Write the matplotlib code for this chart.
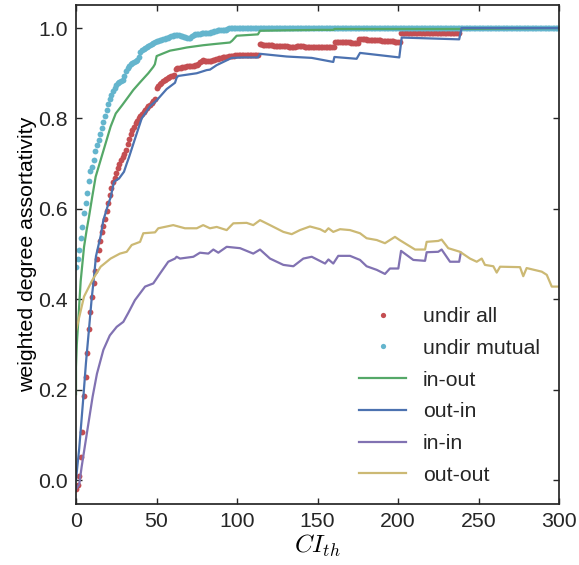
import numpy as np
import matplotlib
matplotlib.use("Agg")
import matplotlib.pyplot as plt

# undir all (dots at every CI_th step)
red_y = [
    -0.02, -0.01, 0.01, 0.05, 0.107, 0.187, 0.229, 0.28, 0.335, 0.371,
    0.405, 0.437, 0.462, 0.49, 0.51, 0.529, 0.549, 0.563, 0.577, 0.595,
    0.612, 0.63, 0.647, 0.66, 0.669, 0.68, 0.69, 0.7, 0.708, 0.715,
    0.722, 0.731, 0.743, 0.755, 0.765, 0.774, 0.782, 0.789, 0.795, 0.8,
    0.805, 0.81, 0.815, 0.819, 0.823, 0.827, 0.83, 0.834, 0.838, 0.842,
    0.868, 0.872, 0.876, 0.879, 0.882, 0.884, 0.887, 0.889, 0.891, 0.893,
    0.895, 0.896, 0.910, 0.911, 0.912, 0.912, 0.913, 0.914, 0.914, 0.915,
    0.915, 0.916, 0.916, 0.917, 0.918, 0.919, 0.921, 0.924, 0.927, 0.929,
    0.928, 0.926, 0.926, 0.927, 0.928, 0.929, 0.930, 0.931, 0.932, 0.933,
    0.934, 0.935, 0.936, 0.937, 0.937, 0.938, 0.938, 0.939, 0.939, 0.94,
    0.94, 0.94, 0.94, 0.94, 0.94, 0.94, 0.941, 0.941, 0.941, 0.941,
    0.941, 0.941, 0.941, 0.941,
    0.964, 0.964, 0.963, 0.963, 0.963, 0.962, 0.962, 0.962, 0.962, 0.961,
    0.961, 0.961, 0.961, 0.960, 0.960, 0.960, 0.960, 0.960, 0.959, 0.959,
    0.959, 0.959, 0.959, 0.960, 0.961, 0.961, 0.960, 0.960, 0.959, 0.959,
    0.959, 0.958, 0.958, 0.958, 0.958, 0.958, 0.958, 0.957, 0.957, 0.957,
    0.957, 0.957, 0.957, 0.957, 0.957, 0.957, 0.957,
    0.970, 0.970, 0.970, 0.970, 0.969, 0.969, 0.969, 0.969, 0.969, 0.969,
    0.968, 0.968, 0.968, 0.968, 0.968,
    0.975, 0.975, 0.975, 0.975, 0.975, 0.974, 0.974, 0.974, 0.974, 0.973,
    0.973, 0.973, 0.973, 0.973, 0.972, 0.972, 0.972, 0.972, 0.971, 0.971,
    0.971, 0.971, 0.970, 0.970, 0.970, 0.970,
    0.990, 0.990, 0.990, 0.990, 0.990, 0.990, 0.990, 0.990, 0.990, 0.990,
    0.989, 0.989, 0.989, 0.989, 0.989, 0.989, 0.989, 0.989, 0.989, 0.989,
    0.989, 0.989, 0.989, 0.988, 0.988, 0.988, 0.988, 0.988, 0.988, 0.988,
    0.988, 0.988, 0.988, 0.988, 0.988, 0.988, 0.988,
]
red_x = list(range(len(red_y)))

# undir mutual
cyan_y = [
    0.472, 0.488, 0.509, 0.535, 0.56, 0.59, 0.612, 0.634, 0.662, 0.684,
    0.692, 0.708, 0.728, 0.742, 0.752, 0.766, 0.779, 0.792, 0.806, 0.819,
    0.832, 0.843, 0.852, 0.86, 0.868, 0.874, 0.878, 0.881, 0.883, 0.886,
    0.895, 0.905, 0.912, 0.917, 0.92, 0.922, 0.924, 0.927, 0.929, 0.935,
    0.947, 0.951, 0.954, 0.956, 0.959, 0.961, 0.963, 0.965, 0.968, 0.970,
    0.971, 0.972, 0.973, 0.974, 0.975, 0.976, 0.977, 0.978, 0.980, 0.982,
    0.983, 0.984, 0.985, 0.985, 0.984, 0.983, 0.982, 0.981, 0.980, 0.978,
    0.977, 0.979, 0.982, 0.984, 0.986, 0.987, 0.987, 0.987, 0.988, 0.988,
    0.989, 0.989, 0.99, 0.99, 0.991, 0.992, 0.993, 0.994, 0.995, 0.995,
    0.995, 0.996, 0.996, 0.996, 0.997,
] + [1.0] * 206
cyan_x = list(range(len(cyan_y)))

# in-out
green_x = [0, 0, 0.5, 1.2, 2.9, 5, 6.6, 8.1, 10.1, 12.2, 15.3, 18.4, 21.5, 24.7,
           28.8, 31.9, 35.6, 39.8, 44.9, 48, 49, 50.1, 54.2, 58.4, 64.6, 68.8,
           79, 87, 95.6, 97, 99.8, 113, 114.3, 130, 151.6, 160, 160.5, 240, 300]
green_y = [0.19, 0.25, 0.30, 0.34, 0.44, 0.516, 0.553, 0.583, 0.627, 0.671,
           0.708, 0.745, 0.782, 0.811, 0.830, 0.845, 0.863, 0.88, 0.90, 0.914,
           0.92, 0.938, 0.944, 0.950, 0.954, 0.957, 0.962, 0.965, 0.968, 0.972,
           0.983, 0.986, 0.994, 0.995, 0.996, 0.996, 0.998, 0.998, 1.0]

# out-in
blue_x = [0, 0.4, 2, 4.5, 6.2, 8.1, 9.7, 11.2, 12.4, 15.3, 17, 20, 21.5, 23.6,
          26.7, 29.8, 31.5, 32.9, 36, 40.8, 46, 50.1, 56.3, 61.5, 62.5, 63.5,
          75, 81.2, 83.2, 87.4, 95.6, 96.7, 104, 113, 114.3, 130.9, 146.4,
          159.8, 160.5, 174.3, 176.4, 200.8, 202.3, 238, 239.5, 300]
blue_y = [0.0, 0.015, 0.07, 0.18, 0.26, 0.335, 0.40, 0.45, 0.495, 0.54, 0.575,
          0.61, 0.625, 0.66, 0.667, 0.682, 0.70, 0.714, 0.748, 0.80, 0.827,
          0.84, 0.865, 0.879, 0.89, 0.894, 0.90, 0.907, 0.908, 0.918, 0.932,
          0.934, 0.935, 0.935, 0.943, 0.937, 0.934, 0.925, 0.936, 0.932, 0.945,
          0.935, 0.979, 0.975, 1.0, 1.0]

# in-in
purple_x = [0, 2, 3.5, 6.6, 10.3, 13, 17, 21, 25.3, 29.4, 32.5, 36.6, 42.9, 48,
            52.2, 57.3, 61.5, 62.5, 64.6, 72.9, 77, 82.2, 85.3, 88.4, 93.6,
            101.9, 110.1, 114.3, 120.5, 128.8, 135, 141.2, 146.4, 154.7, 156.8,
            159.8, 162.9, 170.2, 176.4, 180.5, 186.8, 191.9, 195, 200.2, 201.9,
            209.5, 216.8, 217.8, 225, 227.1, 232.3, 238, 239]
purple_y = [-0.02, -0.01, 0.029, 0.10, 0.184, 0.235, 0.288, 0.32, 0.339, 0.35,
            0.37, 0.398, 0.428, 0.435, 0.457, 0.483, 0.49, 0.494, 0.49, 0.494,
            0.503, 0.501, 0.51, 0.503, 0.516, 0.513, 0.501, 0.51, 0.49, 0.476,
            0.473, 0.49, 0.494, 0.479, 0.488, 0.479, 0.496, 0.496, 0.487, 0.473,
            0.465, 0.456, 0.468, 0.468, 0.507, 0.487, 0.485, 0.504, 0.505, 0.51,
            0.483, 0.483, 0.503]

# out-out
yellow_x = [0, 0.4, 5, 10.1, 15.3, 21.5, 27.3, 31.5, 34.6, 39.8, 41.8, 49.1,
            51.1, 60.4, 67.7, 75, 79, 83.2, 87.4, 93.6, 97.7, 106, 110.1, 114.3,
            120.5, 128.8, 134, 139.1, 145.3, 151.6, 154.7, 156.8, 159.8, 164,
            170.2, 176.4, 180.5, 186.8, 191.9, 198.1, 201, 210.6, 216.8, 217.8,
            225, 227.1, 231.2, 238.5, 244.7, 248.9, 252, 254, 259.2, 261.3,
            263.4, 275.8, 277.8, 279.9, 289.3, 292.4, 295.5, 300]
yellow_y = [0.33, 0.336, 0.406, 0.442, 0.472, 0.49, 0.501, 0.505, 0.52, 0.527,
            0.546, 0.548, 0.557, 0.564, 0.557, 0.557, 0.564, 0.557, 0.56, 0.553,
            0.568, 0.569, 0.564, 0.575, 0.564, 0.549, 0.544, 0.553, 0.561,
            0.555, 0.549, 0.557, 0.549, 0.555, 0.553, 0.546, 0.535, 0.531,
            0.524, 0.538, 0.531, 0.510, 0.510, 0.527, 0.529, 0.532, 0.513,
            0.505, 0.490, 0.483, 0.49, 0.476, 0.473, 0.459, 0.472, 0.471,
            0.451, 0.469, 0.461, 0.454, 0.428, 0.428]

plt.rcParams["font.family"] = ["Liberation Sans", "DejaVu Sans"]
plt.rcParams["mathtext.fontset"] = "cm"
plt.rcParams["text.color"] = "#262626"
plt.rcParams["xtick.color"] = "#262626"
plt.rcParams["ytick.color"] = "#262626"

fig = plt.figure(figsize=(5.79, 5.65), dpi=100)
ax = fig.add_axes([76 / 579, 1 - 504 / 565, 483 / 579, 499 / 565])

ax.plot(red_x, red_y, "o", color="#C44E52", ms=4.2, mew=0, label="undir all")
ax.plot(cyan_x, cyan_y, "o", color="#64B5CD", ms=4.2, mew=0, label="undir mutual")
ax.plot(green_x, green_y, color="#55A868", lw=1.6, label="in-out")
ax.plot(blue_x, blue_y, color="#4C72B0", lw=1.6, label="out-in")
ax.plot(purple_x, purple_y, color="#8172B2", lw=1.6, label="in-in")
ax.plot(yellow_x, yellow_y, color="#CCB974", lw=1.6, label="out-out")

ax.set_xlim(0, 300)
ax.set_ylim(-0.053, 1.051)
ax.set_xticks([0, 50, 100, 150, 200, 250, 300])
ax.set_yticks([0.0, 0.2, 0.4, 0.6, 0.8, 1.0])
ax.tick_params(direction="in", top=True, right=True, length=4, width=1,
               labelsize=15.3, pad=6)
for s in ax.spines.values():
    s.set_color("#262626")
    s.set_linewidth(1.25)

ax.set_xlabel("$CI_{th}$", fontsize=18, labelpad=1)
ax.set_ylabel("weighted degree assortativity", fontsize=15.3, labelpad=1)

ax.legend(loc="lower right", bbox_to_anchor=(1.0, 0.0), frameon=False,
          numpoints=1, fontsize=15.3, handlelength=2.2, labelspacing=0.6,
          markerscale=0.9)

plt.savefig("out.png", dpi=100)
